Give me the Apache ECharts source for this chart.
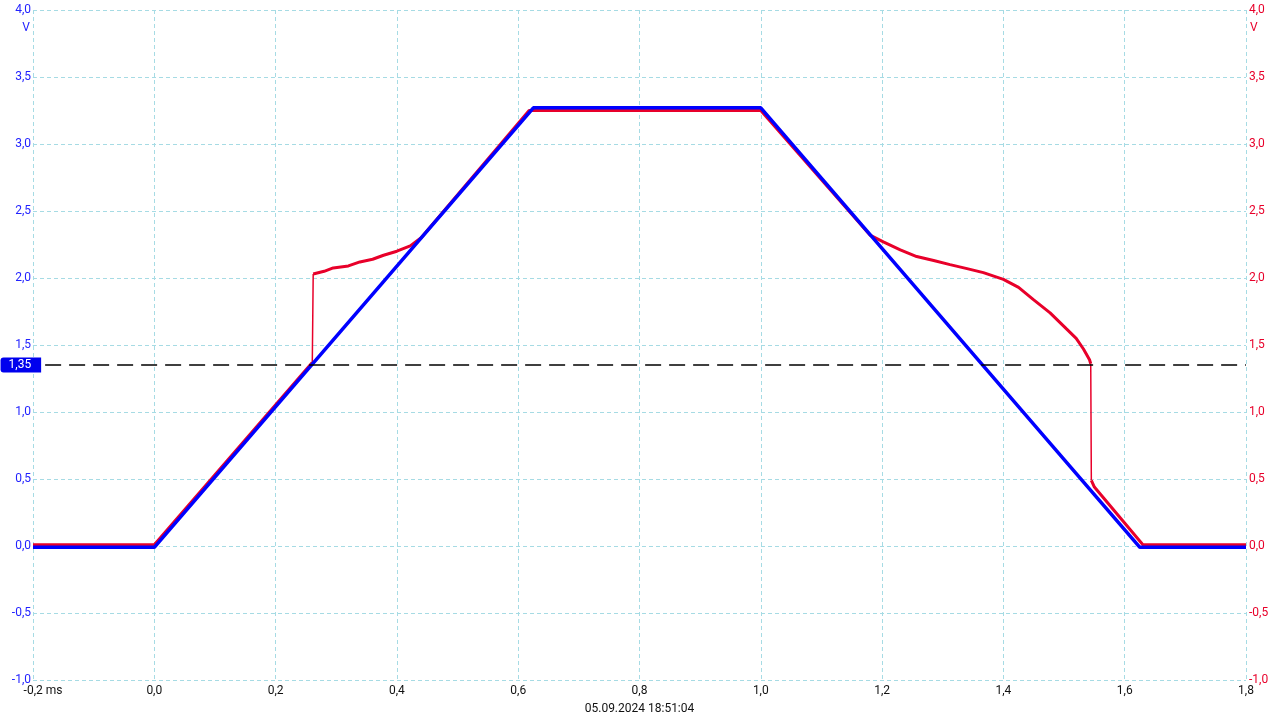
<!DOCTYPE html>
<html>
<head>
<meta charset="utf-8">
<script src="https://cdn.jsdelivr.net/npm/echarts@6/dist/echarts.min.js"></script>
<style>
  html, body { margin: 0; padding: 0; background: #fff; }
  #scope { width: 1280px; height: 720px; }
</style>
</head>
<body>
<div id="scope"></div>
<script>
// channel A (blue): trapezoid ramp
var blueT = [-0.2, 0.0, 0.625, 1.0, 1.625, 1.8];
var blueV = [-0.01, -0.01, 3.27, 3.27, -0.01, -0.01];

// channel B (red): follows ramp, jumps at the threshold
var redT1 = [-0.2, 0.0, 0.2605];
var redV1 = [0.01, 0.01, 1.37];
var redT2 = [0.262, 0.28, 0.295, 0.32, 0.339, 0.36, 0.378, 0.40, 0.422, 0.44, 0.618, 1.0, 1.18,
             1.202, 1.23, 1.257, 1.285, 1.312, 1.34, 1.367, 1.40, 1.425, 1.449, 1.477, 1.504,
             1.52, 1.532, 1.542, 1.544];
var redV2 = [2.03, 2.05, 2.075, 2.09, 2.12, 2.14, 2.17, 2.20, 2.24, 2.30, 3.25, 3.25, 2.32,
             2.27, 2.21, 2.16, 2.13, 2.10, 2.07, 2.04, 1.99, 1.93, 1.84, 1.74, 1.62,
             1.55, 1.47, 1.39, 1.36];
var redT3 = [1.545, 1.55, 1.63, 1.8];
var redV3 = [0.49, 0.44, 0.01, 0.01];
// the two fast edges
var jumpT = [[0.2605, 0.262], [1.544, 1.545]];
var jumpV = [[1.37, 2.03], [1.36, 0.49]];

var trigger = 1.35;
var stamp = '05.09.2024 18:51:04';

var BLUE = '#0000ff', RED = '#e8002a', GRID = '#a6dbe4';

function pairs(t, v) {
    return t.map(function (x, i) { return [x, v[i]]; });
}
function comma(v) { return v.toFixed(1).replace('.', ','); }

var redMain = pairs(redT1, redV1).concat([[null, null]], pairs(redT2, redV2), [[null, null]], pairs(redT3, redV3));
var redEdges = [];
jumpT.forEach(function (t, i) {
    if (i > 0) redEdges.push([null, null]);
    redEdges = redEdges.concat(pairs(t, jumpV[i]));
});

var myChart = echarts.init(document.getElementById('scope'));
var yCommon = {
    type: 'value', min: -1, max: 4, interval: 0.5,
    axisLine: { show: false, onZero: false }, axisTick: { show: false },
    name: 'V', nameLocation: 'end', nameGap: -24,
    splitLine: { show: true, lineStyle: { color: GRID, type: [4, 3], width: 1 } }
};
option = {
    animation: false,
    textStyle: { fontFamily: 'Roboto' },
    grid: { left: 33, right: 34, top: 10, bottom: 38 },
    xAxis: {
        type: 'value', min: -0.2, max: 1.8, interval: 0.2,
        axisLine: { show: false, onZero: false }, axisTick: { show: false },
        splitLine: { show: true, lineStyle: { color: GRID, type: [4, 3], width: 1 } },
        axisLabel: {
            color: '#111', fontSize: 12, margin: 5,
            formatter: function (v) {
                if (Math.abs(v + 0.2) < 1e-6) return '{p|' + comma(v) + ' ms}';
                return comma(v);
            },
            rich: { p: { padding: [0, 0, 0, 20], fontSize: 12, color: '#111' } }
        },
        name: stamp, nameLocation: 'middle', nameGap: 23,
        nameTextStyle: { color: '#111', fontSize: 12 }
    },
    yAxis: [
        Object.assign({}, yCommon, {
            position: 'left',
            axisLabel: { color: '#2222ff', fontSize: 12, margin: 2, formatter: comma },
            nameTextStyle: { color: '#2222ff', fontSize: 12, align: 'right', padding: [0, 3, 0, 0] }
        }),
        Object.assign({}, yCommon, {
            position: 'right',
            axisLabel: { color: RED, fontSize: 12, margin: 3, formatter: comma },
            nameTextStyle: { color: RED, fontSize: 12, align: 'left', padding: [0, 0, 0, 4] }
        })
    ],
    series: [{
        name: 'B', type: 'line', yAxisIndex: 1, showSymbol: false, connectNulls: false,
        lineStyle: { color: RED, width: 3 }, data: redMain
    }, {
        name: 'B edges', type: 'line', yAxisIndex: 1, showSymbol: false, connectNulls: false,
        lineStyle: { color: RED, width: 1.5 }, data: redEdges
    }, {
        name: 'A', type: 'line', showSymbol: false,
        lineStyle: { color: BLUE, width: 3.5 }, data: pairs(blueT, blueV),
        markLine: {
            silent: true, symbol: ['none', 'none'], animation: false,
            lineStyle: { color: '#000', type: [16, 8], width: 1.5 },
            label: {
                show: true, position: 'start', distance: 4,
                formatter: function () { return String(trigger).replace('.', ','); },
                color: '#fff', backgroundColor: '#0000ee', fontSize: 12,
                padding: [2, 10, 1, 8], borderRadius: [3, 0, 0, 3]
            },
            data: [[{ coord: [-0.18, trigger] }, { coord: [1.8, trigger] }]]
        }
    }]
};
myChart.setOption(option);
</script>
</body>
</html>
